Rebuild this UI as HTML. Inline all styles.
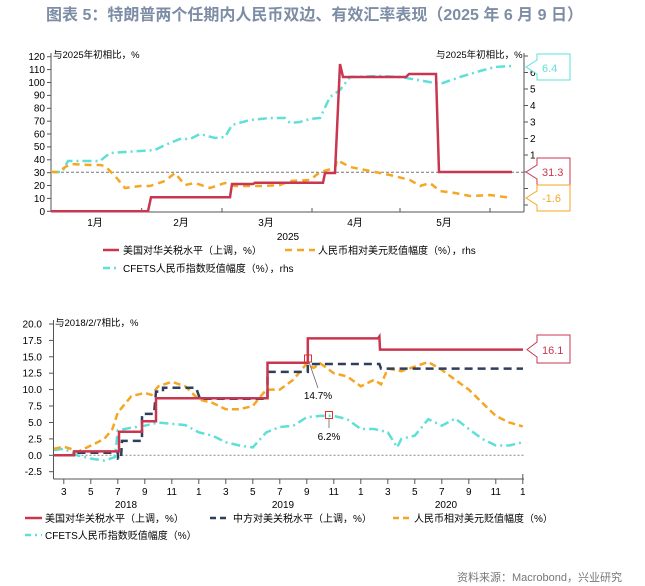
<!DOCTYPE html>
<html><head><meta charset="utf-8"><style>
body{margin:0;background:#fff;}
svg{display:block;font-family:"Liberation Sans","Noto Sans CJK SC",sans-serif;}
</style></head><body>
<svg width="645" height="586" viewBox="0 0 645 586">
<text x="46" y="20" font-size="16" font-weight="bold" fill="#7d8da6">图表 5：特朗普两个任期内人民币双边、有效汇率表现（2025 年 6 月 9 日）</text>

<!-- Chart 1 -->
<g font-size="10" fill="#000">
<line x1="51" y1="53" x2="51" y2="212" stroke="#555"/>
<line x1="51" y1="212" x2="524" y2="212" stroke="#555"/>
<line x1="524" y1="53" x2="524" y2="212" stroke="#555"/>
<g stroke="#555">
<line x1="47" y1="211.3" x2="51" y2="211.3"/><line x1="47" y1="198.4" x2="51" y2="198.4"/><line x1="47" y1="185.5" x2="51" y2="185.5"/><line x1="47" y1="172.7" x2="51" y2="172.7"/><line x1="47" y1="159.8" x2="51" y2="159.8"/><line x1="47" y1="146.9" x2="51" y2="146.9"/><line x1="47" y1="134" x2="51" y2="134"/><line x1="47" y1="121.2" x2="51" y2="121.2"/><line x1="47" y1="108.3" x2="51" y2="108.3"/><line x1="47" y1="95.4" x2="51" y2="95.4"/><line x1="47" y1="82.5" x2="51" y2="82.5"/><line x1="47" y1="69.6" x2="51" y2="69.6"/><line x1="47" y1="56.7" x2="51" y2="56.7"/>
<line x1="524" y1="56" x2="528" y2="56"/><line x1="524" y1="72.5" x2="528" y2="72.5"/><line x1="524" y1="89" x2="528" y2="89"/><line x1="524" y1="105.5" x2="528" y2="105.5"/><line x1="524" y1="122" x2="528" y2="122"/><line x1="524" y1="138.5" x2="528" y2="138.5"/><line x1="524" y1="155" x2="528" y2="155"/><line x1="524" y1="172" x2="528" y2="172"/><line x1="524" y1="188.5" x2="528" y2="188.5"/><line x1="524" y1="205" x2="528" y2="205"/>
<line x1="141.7" y1="208" x2="141.7" y2="212"/><line x1="222" y1="208" x2="222" y2="212"/><line x1="312" y1="208" x2="312" y2="212"/><line x1="400" y1="208" x2="400" y2="212"/><line x1="490" y1="208" x2="490" y2="212"/>
</g>
<g text-anchor="end">
<text x="45" y="215">0</text><text x="45" y="202">10</text><text x="45" y="189">20</text><text x="45" y="176">30</text><text x="45" y="163">40</text><text x="45" y="150">50</text><text x="45" y="137.5">60</text><text x="45" y="124.5">70</text><text x="45" y="111.5">80</text><text x="45" y="98.5">90</text><text x="45" y="86">100</text><text x="45" y="73">110</text><text x="45" y="60">120</text>
</g>
<text x="530" y="76">6</text><text x="530" y="92.5">5</text><text x="530" y="109">4</text><text x="530" y="125.5">3</text><text x="530" y="142">2</text><text x="530" y="158.5">1</text>
<text x="53" y="58" font-size="9.5">与2025年初相比，%</text>
<text x="436" y="58" font-size="9.5">与2025年初相比，%</text>
<text x="95" y="226" text-anchor="middle">1月</text><text x="181" y="226" text-anchor="middle">2月</text><text x="266" y="226" text-anchor="middle">3月</text><text x="355" y="226" text-anchor="middle">4月</text><text x="444" y="226" text-anchor="middle">5月</text>
<text x="288" y="240" text-anchor="middle">2025</text>
</g>
<line x1="51" y1="172.3" x2="524" y2="172.3" stroke="#777" stroke-dasharray="3,2" stroke-width="1"/>
<polyline fill="none" stroke="#5ee0d8" stroke-width="2.5" stroke-dasharray="9,4,2,4" points="51,172 62,172 68,161 100,161 110,153 155,150 165,145 180,139 190,139 200,134 215,138 225,137 232,125 250,120 270,118 285,118 290,123 300,122 310,119 320,118 330,97 340,90 350,77 380,76 400,77 418,80 440,84 460,77 480,71 495,67 512,66"/>
<polyline fill="none" stroke="#f5a623" stroke-width="2.5" stroke-dasharray="7,5" points="51,172 58,172 70,164 90,165 100,165 105,166 115,176 125,188 140,186 150,186 165,181 175,173 185,185 195,183 210,188 225,183 235,186 250,186 262,186 280,185 290,181 310,180 320,172 335,168 337,160 350,167 370,171 390,175 410,180 420,186 430,183 440,191 455,193 470,196 490,195 512,198"/>
<polyline fill="none" stroke="#c8374f" stroke-width="2.5" points="51,211.3 148,211.3 151,197.2 230,197.2 232,184 253,184 255,182.7 323,182.7 325,173 335,173 340,64 343,77 406,77 409,74 436,74 439,172 512,172"/>
<!-- value labels chart1 -->
<g font-size="11">
<polygon points="526,67 537,60 537,54 570,54 570,80 537,80 537,74" fill="#fff" stroke="#5ee0d8"/>
<text x="542" y="72" fill="#5ee0d8">6.4</text>
<polygon points="526,172 537,165 537,158 570,158 570,185 537,185 537,179" fill="#fff" stroke="#c8374f"/>
<text x="542" y="176" fill="#c8374f">31.3</text>
<polygon points="526,198 537,191 537,185 570,185 570,211 537,211 537,205" fill="#fff" stroke="#f5a623"/>
<text x="542" y="202" fill="#f5a623">-1.6</text>
</g>
<!-- legend chart1 -->
<g font-size="10">
<line x1="103" y1="250" x2="119" y2="250" stroke="#c8374f" stroke-width="2.5"/>
<text x="123" y="254">美国对华关税水平（上调，%）</text>
<line x1="285" y1="250" x2="315" y2="250" stroke="#f5a623" stroke-width="2.5" stroke-dasharray="7,5"/>
<text x="318" y="254">人民币相对美元贬值幅度（%），rhs</text>
<line x1="103" y1="268" x2="119" y2="268" stroke="#5ee0d8" stroke-width="2.5" stroke-dasharray="7,4,2,4"/>
<text x="123" y="272">CFETS人民币指数贬值幅度（%），rhs</text>
</g>

<!-- Chart 2 -->
<g font-size="10">
<line x1="53.5" y1="320" x2="53.5" y2="479" stroke="#555"/>
<line x1="53.5" y1="479" x2="524" y2="479" stroke="#555"/>
<g stroke="#555">
<line x1="49" y1="324" x2="53.5" y2="324"/><line x1="49" y1="340.4" x2="53.5" y2="340.4"/><line x1="49" y1="356.8" x2="53.5" y2="356.8"/><line x1="49" y1="373.2" x2="53.5" y2="373.2"/><line x1="49" y1="389.6" x2="53.5" y2="389.6"/><line x1="49" y1="406" x2="53.5" y2="406"/><line x1="49" y1="422.5" x2="53.5" y2="422.5"/><line x1="49" y1="438.9" x2="53.5" y2="438.9"/><line x1="49" y1="455.3" x2="53.5" y2="455.3"/><line x1="49" y1="471.7" x2="53.5" y2="471.7"/>
<line x1="63.8" y1="479" x2="63.8" y2="484"/><line x1="90.8" y1="479" x2="90.8" y2="484"/><line x1="117.8" y1="479" x2="117.8" y2="484"/><line x1="144.8" y1="479" x2="144.8" y2="484"/><line x1="171.8" y1="479" x2="171.8" y2="484"/><line x1="198.8" y1="479" x2="198.8" y2="484"/><line x1="225.8" y1="479" x2="225.8" y2="484"/><line x1="252.8" y1="479" x2="252.8" y2="484"/><line x1="279.8" y1="479" x2="279.8" y2="484"/><line x1="306.8" y1="479" x2="306.8" y2="484"/><line x1="333.8" y1="479" x2="333.8" y2="484"/><line x1="360.8" y1="479" x2="360.8" y2="484"/><line x1="387.8" y1="479" x2="387.8" y2="484"/><line x1="414.8" y1="479" x2="414.8" y2="484"/><line x1="441.8" y1="479" x2="441.8" y2="484"/><line x1="468.8" y1="479" x2="468.8" y2="484"/><line x1="495.8" y1="479" x2="495.8" y2="484"/><line x1="522.8" y1="474" x2="522.8" y2="484"/>
</g>
<g text-anchor="end">
<text x="42" y="327.5">20.0</text><text x="42" y="344">17.5</text><text x="42" y="360.3">15.0</text><text x="42" y="376.7">12.5</text><text x="42" y="393">10.0</text><text x="42" y="409.5">7.5</text><text x="42" y="426">5.0</text><text x="42" y="442.4">2.5</text><text x="42" y="458.8">0.0</text><text x="42" y="475.2">-2.5</text>
</g>
<g text-anchor="middle">
<text x="63.8" y="495">3</text><text x="90.8" y="495">5</text><text x="117.8" y="495">7</text><text x="144.8" y="495">9</text><text x="171.8" y="495">11</text><text x="198.8" y="495">1</text><text x="225.8" y="495">3</text><text x="252.8" y="495">5</text><text x="279.8" y="495">7</text><text x="306.8" y="495">9</text><text x="333.8" y="495">11</text><text x="360.8" y="495">1</text><text x="387.8" y="495">3</text><text x="414.8" y="495">5</text><text x="441.8" y="495">7</text><text x="468.8" y="495">9</text><text x="495.8" y="495">11</text><text x="522.8" y="495">1</text>
<text x="126" y="508">2018</text><text x="283" y="508">2019</text><text x="446" y="508">2020</text>
</g>
<text x="55" y="326" font-size="9.5">与2018/2/7相比，%</text>
</g>
<line x1="53.5" y1="455.3" x2="524" y2="455.3" stroke="#888" stroke-dasharray="2,2"/>
<polyline fill="none" stroke="#5ee0d8" stroke-width="2.5" stroke-dasharray="9,4,2,4" points="54,450 64,448.7 77.3,455.3 91,458.6 104.3,460.6 115,457 117.8,430.3 131.3,427.7 144.8,425.7 158.3,422.5 171.8,423.8 185.3,425.1 198.8,432.3 212.3,435.6 225.8,442.2 239.3,445.5 252.8,447.4 266.3,432.3 279.8,427 293.3,425.7 306.8,417.2 320.3,415.9 333.8,415.9 347.3,419.2 360.8,429 374.3,429 387.8,432.3 397.2,447.4 401.3,438.9 414.8,435.6 428.3,419.2 441.8,425.7 455.3,418.5 468.8,429 482.3,438.9 495.8,445.5 509.3,445.5 522.8,442.2"/>
<polyline fill="none" stroke="#f5a623" stroke-width="2.5" stroke-dasharray="7,4" points="54,448.7 64,446.8 70.5,448.7 77.3,452 91,445.5 104.3,438.9 112.4,429 117.8,412.6 131.3,396.2 144.8,392.9 151.6,394.9 158.3,386.3 171.8,381.8 185.3,386.3 198.8,399.5 212.3,402.8 225.8,409.3 239.3,409.3 252.8,406 266.3,389.6 279.8,389.6 293.3,379.8 306.8,363.4 313.5,368 320.3,363.4 333.8,373.2 347.3,376.5 360.8,386.3 374.3,379.8 381,384.4 387.8,368.6 401.3,371.2 414.8,366.6 428.3,362 441.8,369.9 455.3,379.8 468.8,389.6 482.3,402.8 495.8,415.9 509.3,422.5 522.8,426.4"/>
<polyline fill="none" stroke="#2e3f5c" stroke-width="2.5" stroke-dasharray="8,5" points="54,455.3 74,455.3 74,452.7 118,452.7 118,458.6 121,458.6 122,440.9 142,440.9 142,413.9 154,413.9 156,391.6 163,391.6 163,387.7 196,387.7 200,398.8 267.5,398.8 267.5,371.9 307.8,371.9 307.8,364 379.4,364 381,368.6 523,368.6"/>
<polyline fill="none" stroke="#c8374f" stroke-width="2.5" points="54,455.3 74,455.3 74,451.4 119,451.4 119,431.7 142,431.7 142,421.2 156,421.2 156,398.2 267.5,398.2 267.5,362.7 307.8,362.7 307.8,338.4 378,338.4 379.4,336.5 380,349.6 523,349.6"/>
<!-- annotations -->
<rect x="304.5" y="355" width="7" height="7" fill="none" stroke="#e03030" stroke-width="1"/>
<rect x="325.5" y="411.5" width="7" height="7" fill="none" stroke="#e03030" stroke-width="1"/>
<line x1="309" y1="362" x2="318" y2="388" stroke="#666" stroke-width="0.8"/>
<line x1="329" y1="418.5" x2="329" y2="428" stroke="#666" stroke-width="0.8"/>
<text x="318" y="399" font-size="10" text-anchor="middle">14.7%</text>
<text x="329" y="440" font-size="10" text-anchor="middle">6.2%</text>
<polygon points="527,349.6 537,342 537,335 570,335 570,363 537,363 537,357" fill="#fff" stroke="#c8374f"/>
<text x="542" y="354" font-size="11" fill="#c8374f">16.1</text>
<!-- legend chart2 -->
<g font-size="10">
<line x1="25" y1="518" x2="42" y2="518" stroke="#c8374f" stroke-width="2.5"/>
<text x="45" y="522">美国对华关税水平（上调，%）</text>
<line x1="210" y1="518" x2="230" y2="518" stroke="#2e3f5c" stroke-width="2.5" stroke-dasharray="6,4"/>
<text x="233" y="522">中方对美关税水平（上调，%）</text>
<line x1="393" y1="518" x2="411" y2="518" stroke="#f5a623" stroke-width="2.5" stroke-dasharray="6,4"/>
<text x="414" y="522">人民币相对美元贬值幅度（%）</text>
<line x1="25" y1="535" x2="42" y2="535" stroke="#5ee0d8" stroke-width="2.5" stroke-dasharray="6,4,2,4"/>
<text x="45" y="539">CFETS人民币指数贬值幅度（%）</text>
</g>
<text x="622" y="581" font-size="11" fill="#777" text-anchor="end">资料来源：Macrobond，兴业研究</text>
</svg>
</body></html>
